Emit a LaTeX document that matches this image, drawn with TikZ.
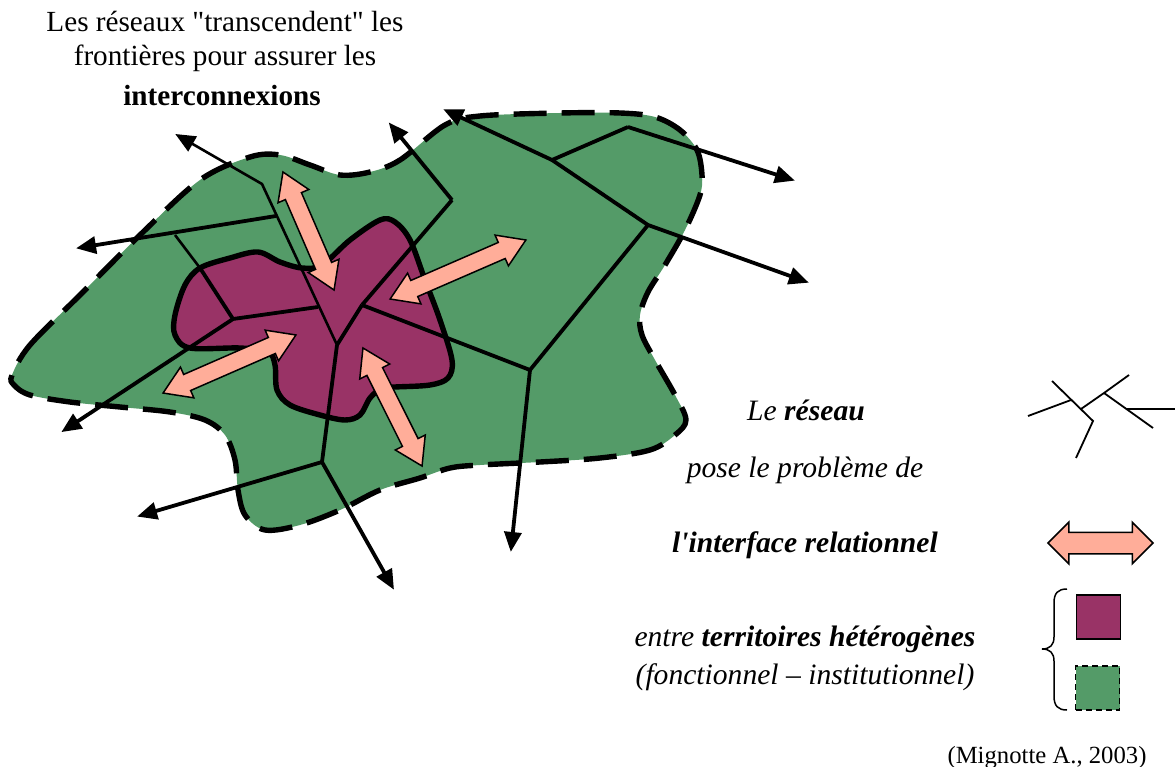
\documentclass[tikz,border=0pt]{standalone}
\usepackage{fontspec}
\setmainfont{Liberation Serif}[Ligatures=TeXOff]
\usetikzlibrary{arrows.meta,shapes.arrows}
\definecolor{terrgreen}{HTML}{549B68}
\definecolor{terrpurple}{HTML}{993366}
\definecolor{salmon}{HTML}{FFAD99}
\tikzset{
  terrA/.style={fill=terrgreen,draw=none},
  terrB/.style={fill=terrpurple,draw=black,line width=5.4pt},
  dashline/.style={draw=black,line width=5.4pt,dash pattern=on 33pt off 15pt},
  netthin/.style={draw=black,line width=2.6pt},
  netthick/.style={draw=black,line width=3.8pt,line join=miter},
  netout/.style={netthick,shorten >=-2pt,-{Triangle[length=20pt,width=17pt]}},
  legnet/.style={draw=black,line width=1.8pt},
  dblarrow/.style={shape=double arrow,draw=black,line width=1.5pt,fill=salmon,inner xsep=0pt,inner ysep=8pt,outer sep=0pt,
    double arrow head extend=8pt,double arrow tip angle=65},
  txt/.style={font=\fontsize{29.2}{32}\selectfont,anchor=base},
  ltxt/.style={font=\fontsize{29.6}{32}\selectfont\itshape,anchor=base},
}
\begin{document}
\begin{tikzpicture}[x=1pt,y=-1pt]
\useasboundingbox (0,0) rectangle (1175,767);
% green territory
\def\greenpath{plot[smooth cycle,tension=.55] coordinates {(12,375)(30,345)(80,295)(140,235)(200,180)(250,157)(280,155)(310,165)(340,175)(370,172)(400,160)(445,125)(480,116)(560,113)(620,113)(655,117)(680,130)(697,150)(702,175)(700,195)(685,230)(665,265)(648,292)(640,315)(642,335)(655,360)(675,395)(686,420)(675,435)(650,450)(600,458)(540,462)(480,465)(450,468)(420,478)(380,490)(340,510)(300,525)(265,530)(245,515)(238,490)(235,460)(225,435)(205,420)(170,412)(120,407)(70,402)(30,395)(14,385)}}
\path[terrA] \greenpath;
% purple territory
\path[terrB] plot[smooth cycle,tension=.55] coordinates {(200,268)(230,258)(258,252)(280,262)(302,268)(322,265)(350,240)(380,220)(395,222)(410,240)(425,280)(440,320)(452,360)(448,378)(430,385)(395,387)(382,388)(370,398)(360,415)(345,420)(320,415)(290,405)(277,390)(275,365)(268,352)(240,348)(190,348)(175,335)(175,315)(185,285)};
\path[dashline] \greenpath;
% network nodes
\coordinate (hub) at (337,345);
\coordinate (n1) at (262,184);
\coordinate (n2) at (362,305);
\coordinate (n3) at (452,200);
\coordinate (n4) at (530,370);
\coordinate (n5) at (648,225);
\coordinate (n6) at (552,160);
\coordinate (n7) at (628,127);
\coordinate (n8) at (322,462);
\coordinate (n9) at (233,319);
\coordinate (n10) at (200,268);
\coordinate (n11) at (175,235);
\coordinate (n12) at (276,216);
\coordinate (n13) at (318,307);
\coordinate (o1) at (177,135);
\coordinate (o2) at (78,248);
\coordinate (o3) at (63,431);
\coordinate (o4) at (139,516);
\coordinate (o5) at (393,588);
\coordinate (o6) at (511,550);
\coordinate (o7) at (807,282);
\coordinate (o8) at (793,180);
\coordinate (o9) at (445,110);
\coordinate (o10) at (390,124);
\draw[netthin,shorten >=-2pt,-{Triangle[length=20pt,width=17pt]}] (hub) -- (n1) -- (o1);
\draw[netthick] (hub) -- (n8);
\draw[netout] (n8) -- (o4);
\draw[netout] (n8) -- (o5);
\draw[netthick] (hub) -- (n2);
\draw[netthick] (n2) -- (n3);
\draw[netout] (n3) -- (o10);
\draw[netthick] (n2) -- (n4);
\draw[netout] (n4) -- (o6);
\draw[netthick] (n4) -- (n5);
\draw[netout] (n5) -- (o7);
\draw[netthick] (n5) -- (n6);
\draw[netout] (n6) -- (o9);
\draw[netthick] (n6) -- (n7);
\draw[netout] (n7) -- (o8);
\draw[netthick] (n13) -- (n9);
\draw[netthick] (n9) -- (n10);
\draw[netthin] (n10) -- (n11);
\draw[netout] (n12) -- (o2);
\draw[netout] (n9) -- (o3);
% salmon double arrows
\node[dblarrow,rotate=-66.6,minimum height=128.6pt] (a1) at (308.5,231) {};
\node[dblarrow,rotate=23.5,minimum height=148pt] (a2) at (458,269.5) {};
\node[dblarrow,rotate=23.6,minimum height=145pt] (a3) at (229.5,364) {};
\node[dblarrow,rotate=-63.4,minimum height=132pt] (a4) at (392.5,407) {};
% texts
\node[txt] (t1) at (225,32) {Les réseaux "transcendent" les};
\node[txt] (t2) at (225,66) {frontières pour assurer les};
\node[txt] (t3) at (222,106) {\bfseries interconnexions};
\node[ltxt] (l1) at (806,420.5) {Le \textbf{réseau}};
\node[ltxt] (l2) at (805,477) {pose le problème de};
\node[ltxt] (l3) at (805,552) {\textbf{l'interface relationnel}};
\node[ltxt] (l4) at (805,646) {entre \textbf{territoires hétérogènes}};
\node[ltxt] (l5) at (805,684) {(fonctionnel – institutionnel)};
\node[font=\fontsize{24.7}{28}\selectfont,anchor=base] (l6) at (1047,763) {(Mignotte A., 2003)};
% legend network
\coordinate (g1) at (1028,416);
\coordinate (g2) at (1071,400);
\coordinate (g3) at (1052,381);
\coordinate (g4) at (1093,421);
\coordinate (g5) at (1076,458);
\coordinate (g6) at (1081,409);
\coordinate (g7) at (1104,393);
\coordinate (g8) at (1129,375);
\coordinate (g9) at (1153,428);
\coordinate (g10) at (1127,409);
\coordinate (g11) at (1175,409);
\draw[legnet] (g1) -- (g2);
\draw[legnet] (g3) -- (g4) -- (g5);
\draw[legnet] (g6) -- (g7) -- (g8);
\draw[legnet] (g7) -- (g9);
\draw[legnet] (g10) -- (g11);
% legend symbols
\node[dblarrow,inner ysep=10pt,double arrow head extend=10pt,double arrow tip angle=90,minimum height=105pt] (la) at (1100.5,543) {};
\node[draw=black,line width=1.8pt,fill=terrpurple,minimum size=44pt,inner sep=0pt] (ls1) at (1098.5,617) {};
\node[draw=black,line width=1.8pt,dash pattern=on 6pt off 4pt,fill=terrgreen,minimum size=44pt,inner sep=0pt] (ls2) at (1097.5,688) {};
% brace
\draw[line width=1.5pt] (1067,589) .. controls (1058,589) and (1054,593) .. (1054,603) -- (1054,637) .. controls (1054,645) and (1050,649) .. (1042,649) .. controls (1050,649) and (1054,653) .. (1054,661) -- (1054,696) .. controls (1054,706) and (1058,710) .. (1067,710);
\end{tikzpicture}
\end{document}
